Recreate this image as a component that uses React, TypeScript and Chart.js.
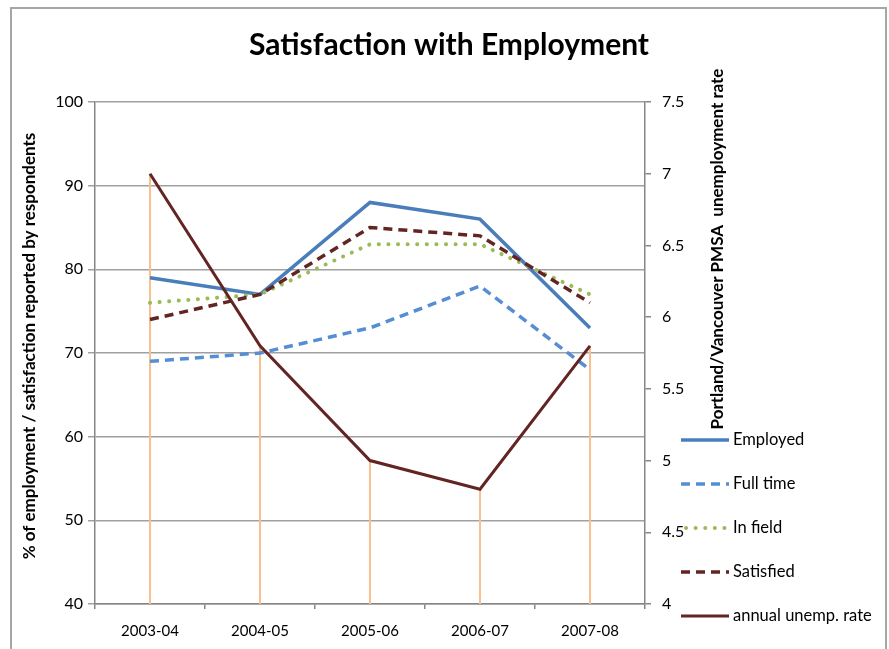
import React, { useEffect, useRef } from "react";
import { Chart, registerables } from "chart.js";

Chart.register(...registerables);

const categories = ["2003-04", "2004-05", "2005-06", "2006-07", "2007-08"];
const employed = [79, 77, 88, 86, 73];
const fullTime = [69, 70, 73, 78, 68];
const inField = [76, 77, 83, 83, 77];
const satisfied = [74, 77, 85, 84, 76];
const unempRate = [7.0, 5.8, 5.0, 4.8, 5.8];

const leftTicks = [40, 50, 60, 70, 80, 90, 100];
const rightTicks = [4, 4.5, 5, 5.5, 6, 6.5, 7, 7.5];

const TITLE = "Satisfaction with Employment";
const LEFT_TITLE = "% of employment / satisfaction reported by respondents";
const RIGHT_TITLE = "Portland/Vancouver PMSA  unemployment rate";

const FONT = 'Lato, "Open Sans", sans-serif';

const decorPlugin = {
  id: "decor",
  beforeDatasetsDraw(chart: any) {
    const ctx = chart.ctx;
    const meta = chart.getDatasetMeta(4);
    const bottom = chart.chartArea.bottom;
    ctx.save();
    ctx.strokeStyle = "#f9bf8f";
    ctx.lineWidth = 2;
    meta.data.forEach((pt: any) => {
      ctx.beginPath();
      ctx.moveTo(pt.x, pt.y);
      ctx.lineTo(pt.x, bottom);
      ctx.stroke();
    });
    ctx.restore();
  },
  afterDraw(chart: any) {
    const ctx = chart.ctx;
    ctx.save();
    // outer border
    ctx.strokeStyle = "#a6a6a6";
    ctx.lineWidth = 2;
    ctx.strokeRect(11, 8, 875, 700);

    // title
    ctx.fillStyle = "#000";
    ctx.font = `bold 30px ${FONT}`;
    ctx.textAlign = "center";
    ctx.textBaseline = "alphabetic";
    ctx.fillText(TITLE, 449, 55);

    // left axis title
    ctx.font = `bold 17px ${FONT}`;
    ctx.save();
    ctx.translate(30, 346);
    ctx.rotate(-Math.PI / 2);
    ctx.textBaseline = "middle";
    ctx.fillText(LEFT_TITLE, 0, 0);
    ctx.restore();

    // right axis title
    ctx.save();
    ctx.translate(718, 249);
    ctx.rotate(-Math.PI / 2);
    ctx.textBaseline = "middle";
    ctx.fillText(RIGHT_TITLE, 0, 0);
    ctx.restore();

    // legend
    const ds = chart.data.datasets;
    const ys = [440, 484, 528, 572, 616];
    ctx.font = `16.5px ${FONT}`;
    ctx.textAlign = "left";
    ctx.textBaseline = "middle";
    ds.forEach((d: any, i: number) => {
      const y = ys[i];
      ctx.save();
      ctx.strokeStyle = d.borderColor;
      ctx.lineWidth = d.borderWidth;
      ctx.lineCap = d.borderCapStyle || "butt";
      ctx.setLineDash(d.borderDash || []);
      ctx.beginPath();
      ctx.moveTo(i === 2 ? 686 : 681, y);
      ctx.lineTo(729, y);
      ctx.stroke();
      ctx.restore();
      ctx.fillStyle = "#000";
      ctx.fillText(d.label, 733, y);
    });
    ctx.restore();
  },
};

export default function App() {
  const ref = useRef<HTMLCanvasElement>(null);
  useEffect(() => {
    if (!ref.current) return;
    const chart = new Chart(ref.current, {
      type: "line",
      data: {
        labels: categories,
        datasets: [
          {
            label: "Employed",
            data: employed,
            borderColor: "#4a7ebb",
            borderWidth: 3.5,
            yAxisID: "y",
            order: 5,
          },
          {
            label: "Full time",
            data: fullTime,
            borderColor: "#558ed5",
            borderWidth: 3.5,
            borderDash: [9, 6],
            yAxisID: "y",
            order: 4,
          },
          {
            label: "In field",
            data: inField,
            borderColor: "#9bbb59",
            borderWidth: 4,
            borderDash: [0.1, 9.5],
            borderCapStyle: "round",
            yAxisID: "y",
            order: 3,
          },
          {
            label: "Satisfied",
            data: satisfied,
            borderColor: "#632523",
            borderWidth: 3.5,
            borderDash: [9, 6],
            yAxisID: "y",
            order: 2,
          },
          {
            label: "annual unemp. rate",
            data: unempRate,
            borderColor: "#632523",
            borderWidth: 3,
            yAxisID: "y1",
            order: 1,
          },
        ] as any,
      },
      options: {
        responsive: false,
        animation: false,
        devicePixelRatio: 1,
        layout: { padding: { top: 102, left: 0, right: 0, bottom: 0 } },
        elements: { point: { radius: 0, hoverRadius: 0 }, line: { tension: 0 } },
        plugins: {
          legend: { display: false },
          title: { display: false },
          tooltip: { enabled: false },
        },
        scales: {
          x: {
            type: "category",
            offset: true,
            grid: {
              offset: true,
              drawOnChartArea: false,
              tickLength: 5,
              color: "#868686",
              lineWidth: 1.5,
            },
            border: { color: "#868686", width: 1.5 },
            ticks: { color: "#000", font: { family: FONT, size: 15 }, padding: 13, maxRotation: 0 },
            afterFit: (s: any) => {
              s.height = 45;
            },
          },
          y: {
            position: "left",
            min: 40,
            max: 100,
            afterBuildTicks: (s: any) => {
              s.ticks = leftTicks.map((v) => ({ value: v }));
            },
            grid: { color: "#a0a0a0", lineWidth: 1.5, tickLength: 7 },
            border: { color: "#868686", width: 1.5 },
            ticks: { color: "#000", font: { family: FONT, size: 16 }, padding: 5 },
            afterFit: (s: any) => {
              s.width = 95;
            },
          },
          y1: {
            position: "right",
            min: 4,
            max: 7.5,
            afterBuildTicks: (s: any) => {
              s.ticks = rightTicks.map((v) => ({ value: v }));
            },
            grid: { drawOnChartArea: false, color: "#868686", lineWidth: 1.5, tickLength: 6 },
            border: { color: "#868686", width: 1.5 },
            ticks: {
              color: "#000",
              font: { family: FONT, size: 16 },
              padding: 11,
              callback: (v: any) => String(v),
            },
            afterFit: (s: any) => {
              s.width = 244;
            },
          },
        },
      } as any,
      plugins: [decorPlugin],
    });
    return () => chart.destroy();
  }, []);
  return (
    <div style={{ position: "absolute", left: 0, top: 0, width: 889, height: 649, background: "#fff" }}>
      <canvas ref={ref} width={889} height={649} style={{ display: "block" }} />
    </div>
  );
}
